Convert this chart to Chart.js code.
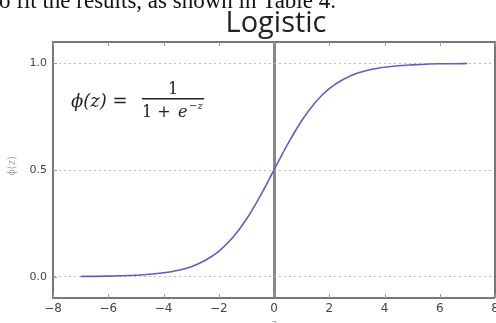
<!DOCTYPE html>
<html>
<head>
<meta charset="utf-8">
<script src="https://cdn.jsdelivr.net/npm/chart.js@4"></script>
<style>
  html, body { margin: 0; padding: 0; background: #fff; overflow: hidden; }
  #wrap { position: relative; width: 496px; height: 323px; }
</style>
</head>
<body>
<div id="wrap"><canvas id="logisticChart" width="496" height="323"></canvas></div>
<script>
// Values
const zValues = [-7, -6.5, -6, -5.5, -5, -4.5, -4, -3.5, -3, -2.5, -2, -1.5, -1, -0.5, 0,
  0.5, 1, 1.5, 2, 2.5, 3, 3.5, 4, 4.5, 5, 5.5, 6, 6.5, 7];
const phiValues = [0.001, 0.0015, 0.0025, 0.004, 0.0067, 0.011, 0.018, 0.029, 0.047, 0.076, 0.119, 0.182, 0.269, 0.378, 0.5,
  0.622, 0.731, 0.818, 0.881, 0.924, 0.953, 0.971, 0.982, 0.989, 0.993, 0.996, 0.998, 0.998, 0.999];
const xTicks = [-8, -6, -4, -2, 0, 2, 4, 6, 8];
const yTicks = [0, 0.5, 1.0];

const FRAME = '#777';
const minus = v => (v < 0 ? '\u2212' + Math.abs(v) : String(v));

// Page text, plot title, formula, frame and inward ticks
const decorations = {
  id: 'decorations',
  afterDraw(chart) {
    const ctx = chart.ctx;
    const a = chart.chartArea;
    const xs = chart.scales.x, ys = chart.scales.y;
    ctx.save();

    // paper text cut at the top
    ctx.fillStyle = '#111';
    ctx.font = '23px "Liberation Serif"';
    ctx.textAlign = 'left';
    ctx.textBaseline = 'alphabetic';
    ctx.fillText('o fit the results, as shown in Table 4.', -1, 8);

    // title
    ctx.fillStyle = '#222';
    ctx.font = '29px "Open Sans"';
    ctx.textAlign = 'center';
    ctx.fillText('Logistic', 276, 32);

    // top and right frame
    ctx.strokeStyle = FRAME;
    ctx.lineWidth = 2;
    ctx.beginPath();
    ctx.moveTo(a.left - 1, a.top);
    ctx.lineTo(a.right + 1, a.top);
    ctx.moveTo(a.right, a.top);
    ctx.lineTo(a.right, a.bottom);
    ctx.stroke();

    // inward tick marks
    ctx.lineWidth = 1;
    ctx.strokeStyle = '#999';
    ctx.beginPath();
    xTicks.forEach(v => {
      const px = Math.round(xs.getPixelForValue(v)) + 0.5;
      ctx.moveTo(px, a.bottom);
      ctx.lineTo(px, a.bottom - 4);
      ctx.moveTo(px, a.top);
      ctx.lineTo(px, a.top + 4);
    });
    yTicks.forEach(v => {
      const py = Math.round(ys.getPixelForValue(v)) + 0.5;
      ctx.moveTo(a.left, py);
      ctx.lineTo(a.left + 4, py);
    });
    ctx.stroke();

    // axis titles
    ctx.fillStyle = '#aaa';
    ctx.font = '10px "DejaVu Sans"';
    ctx.save();
    ctx.translate(12, 166);
    ctx.rotate(-Math.PI / 2);
    ctx.textAlign = 'center';
    ctx.textBaseline = 'middle';
    ctx.fillText('\u03d5(z)', 0, 0);
    ctx.restore();
    ctx.textAlign = 'center';
    ctx.textBaseline = 'top';
    ctx.fillText('z', xs.getPixelForValue(0), 319);

    // formula
    ctx.fillStyle = '#222';
    ctx.textBaseline = 'alphabetic';
    ctx.textAlign = 'left';
    ctx.font = 'italic 18px "DejaVu Serif"';
    ctx.fillText('\u03d5(z) =', 71, 107);
    ctx.textAlign = 'center';
    ctx.font = '16px "DejaVu Serif"';
    ctx.fillText('1', 173, 94);
    ctx.fillRect(142, 98, 62, 1.5);
    ctx.textAlign = 'left';
    ctx.fillText('1 +', 142, 117);
    ctx.font = 'italic 16px "DejaVu Serif"';
    ctx.fillText('e', 178, 117);
    ctx.font = 'italic 10px "DejaVu Serif"';
    ctx.fillText('\u2212z', 189, 109);

    ctx.restore();
  }
};

new Chart(document.getElementById('logisticChart'), {
  type: 'line',
  data: {
    datasets: [{
      data: zValues.map((z, i) => ({ x: z, y: phiValues[i] })),
      borderColor: '#5f5fc4',
      borderWidth: 1.6,
      pointRadius: 0,
      fill: false,
      cubicInterpolationMode: 'monotone'
    }]
  },
  options: {
    responsive: false,
    animation: false,
    layout: { padding: { left: 0, right: 1, top: 42, bottom: 0 } },
    plugins: {
      legend: { display: false },
      title: { display: false },
      tooltip: { enabled: false }
    },
    scales: {
      x: {
        type: 'linear',
        min: -8,
        max: 8,
        afterBuildTicks: s => { s.ticks = xTicks.map(v => ({ value: v })); },
        afterFit: s => { s.height = 25; s.paddingLeft = 0; s.paddingRight = 0; },
        ticks: {
          padding: 4,
          color: '#444',
          font: { family: 'DejaVu Sans', size: 12 },
          maxRotation: 0,
          callback: v => minus(v)
        },
        grid: {
          drawTicks: false,
          color: c => (c.tick && c.tick.value === 0 ? '#888' : 'rgba(0,0,0,0)'),
          lineWidth: c => (c.tick && c.tick.value === 0 ? 3 : 0)
        },
        border: { display: true, color: FRAME, width: 2 }
      },
      y: {
        min: -0.1,
        max: 1.1,
        afterBuildTicks: s => { s.ticks = yTicks.map(v => ({ value: v })); },
        afterFit: s => { s.width = 53; s.paddingTop = 0; s.paddingBottom = 0; },
        ticks: {
          padding: 6,
          color: '#444',
          font: { family: 'DejaVu Sans', size: 11 },
          callback: v => v.toFixed(1)
        },
        grid: {
          drawTicks: false,
          color: '#bdbdbd',
          lineWidth: 1
        },
        border: { display: true, color: FRAME, width: 2, dash: [2, 3] }
      }
    }
  },
  plugins: [decorations]
});
</script>
</body>
</html>
